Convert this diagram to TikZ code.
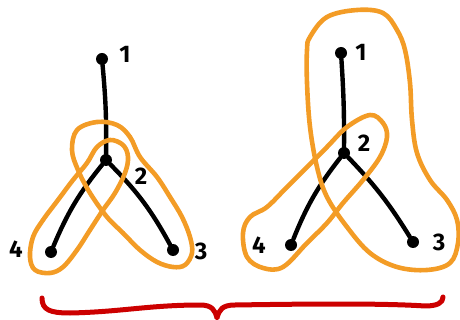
\documentclass[tikz,border=0pt]{standalone}
\usepackage{fontspec}
\setsansfont{Fira Sans}
\begin{document}
\begin{tikzpicture}[x=1pt,y=-1pt,
  dot/.style={circle,fill=black,inner sep=0pt,minimum size=12pt},
  lbl/.style={font=\sffamily\bfseries\fontsize{24}{24}\selectfont,inner sep=0pt},
  edge/.style={line width=4.4pt,line cap=round},
  loop/.style={draw=orng,line width=4.6pt,line join=round},
  brace/.style={draw=bred,line width=5pt,line cap=round,line join=round}]
\definecolor{orng}{RGB}{243,156,38}
\definecolor{bred}{RGB}{204,0,0}
\useasboundingbox (0,0) rectangle (460,320);
% left tree
\node[dot] (a1) at (102,59) {};
\node[dot] (a2) at (106,160) {};
\node[dot] (a4) at (51,252) {};
\node[dot] (a3) at (173,250) {};
\node[lbl] (la1) at (125,54) {1};
\node[lbl] (la2) at (141,176) {2};
\node[lbl] (la4) at (16,249) {4};
\node[lbl] (la3) at (201,251) {3};
\draw[edge] (a1) to[bend left=3] (a2);
\draw[edge] (a2) to[bend right=8] (a4);
\draw[edge] (a2) to[bend left=8] (a3);
\draw[loop] plot[smooth cycle,tension=0.6] coordinates {(110,140) (123,145) (128,157) (125,173) (115,193) (103,210) (90,230) (77,250) (63,267) (50,273) (35,270) (30,257) (33,237) (43,220) (58,200) (73,180) (87,163) (97,147)};
\draw[loop] plot[smooth cycle,tension=0.6] coordinates {(97,122) (117,125) (130,137) (140,157) (157,177) (170,197) (182,217) (190,237) (192,253) (185,265) (173,267) (157,262) (140,250) (123,233) (107,217) (90,193) (78,170) (72,150) (77,130)};
% right tree
\node[dot] (b1) at (341,53) {};
\node[dot] (b2) at (344,153) {};
\node[dot] (b4) at (291,245) {};
\node[dot] (b3) at (413,242) {};
\node[lbl] (lb1) at (361,52) {1};
\node[lbl] (lb2) at (364,143) {2};
\node[lbl] (lb4) at (259,245) {4};
\node[lbl] (lb3) at (439,242) {3};
\draw[edge] (b1) to[bend left=2] (b2);
\draw[edge] (b2) to[bend right=8] (b4);
\draw[edge] (b2) to[bend left=6] (b3);
\draw[loop] plot[smooth cycle,tension=0.6] coordinates {(310,37) (327,17) (357,10) (383,13) (397,30) (405,50) (410,83) (412,120) (417,153) (430,180) (447,200) (457,220) (458,243) (450,263) (427,270) (397,267) (370,253) (347,227) (327,197) (317,167) (310,127) (307,83) (307,50)};
\draw[loop] plot[smooth cycle,tension=0.6] coordinates {(370,115) (383,123) (387,137) (380,157) (363,180) (343,203) (327,223) (307,243) (283,267) (263,268) (247,257) (243,233) (250,217) (267,207) (287,187) (307,167) (327,147) (347,127)};
% brace
\draw[brace] (42,298) .. controls (42,310) and (50,313) .. (70,313)
  .. controls (120,312) and (150,305) .. (200,305)
  .. controls (212,305) and (215,310) .. (217,318)
  .. controls (219,310) and (222,305) .. (235,305)
  .. controls (300,304) and (380,303) .. (425,306)
  .. controls (437,306) and (443,303) .. (443,297);
\end{tikzpicture}
\end{document}
